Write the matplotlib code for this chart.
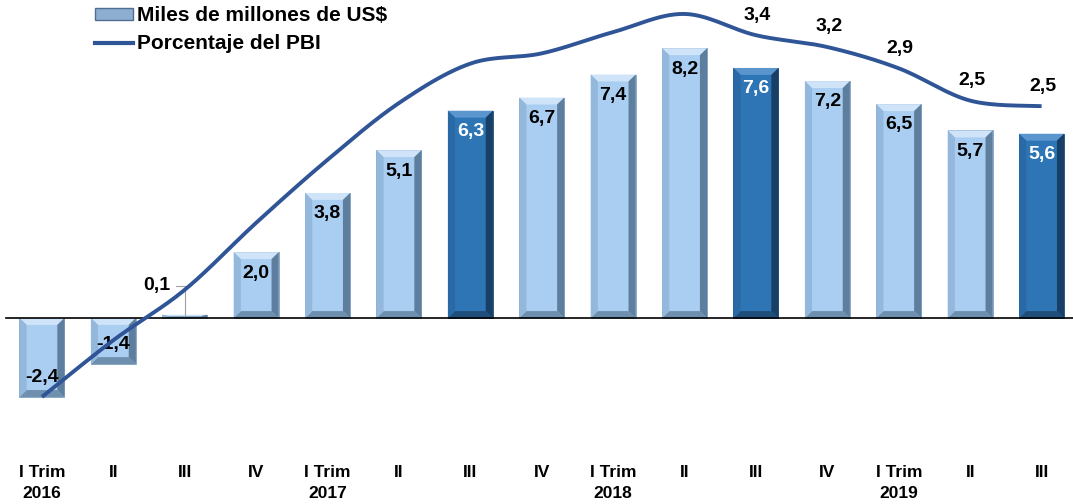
import matplotlib.pyplot as plt
import numpy as np
from matplotlib.patches import Polygon, Patch
from matplotlib.lines import Line2D

plt.rcParams['font.family'] = ['Liberation Sans', 'DejaVu Sans']
plt.rcParams['font.weight'] = 'bold'

# data
quarters = ["I Trim", "II", "III", "IV", "I Trim", "II", "III", "IV",
            "I Trim", "II", "III", "IV", "I Trim", "II", "III"]
years = ["2016", "", "", "", "2017", "", "", "", "2018", "", "", "", "2019", "", ""]
usd_bn = [-2.4, -1.4, 0.1, 2.0, 3.8, 5.1, 6.3, 6.7, 7.4, 8.2, 7.6, 7.2, 6.5, 5.7, 5.6]
pct_gdp = [-1.23, -0.51, 0.13, 0.98, 1.78, 2.50, 3.00, 3.13, 3.40, 3.63,
           3.36, 3.21, 2.94, 2.53, 2.46]
pct_labelled = [10, 11, 12, 13, 14]
dark_bars = [6, 10, 14]

line_color = '#2F5597'
light = dict(face='#A9CEF1', top='#CFE4F8', left='#93B8DC', right='#5E7E9E', bottom='#6F8FAE', edge='#7F9FBF')
dark = dict(face='#2E75B6', top='#5A95CE', left='#296AA6', right='#183F66', bottom='#1F4E7A', edge='#1F4E79')


def catmull_rom(x, y, n=30):
    # smoothed line like the spreadsheet "smooth line" option
    p = np.column_stack([x, y]).astype(float)
    p = np.vstack([p[0], p, p[-1]])
    out = []
    for i in range(1, len(p) - 2):
        p0, p1, p2, p3 = p[i - 1], p[i], p[i + 1], p[i + 2]
        c1 = p1 + (p2 - p0) / 6
        c2 = p2 - (p3 - p1) / 6
        t = np.linspace(0, 1, n)[:, None]
        seg = ((1 - t) ** 3) * p1 + 3 * ((1 - t) ** 2) * t * c1 + 3 * (1 - t) * t ** 2 * c2 + t ** 3 * p2
        out.append(seg if i == 1 else seg[1:])
    out = np.vstack(out)
    return out[:, 0], out[:, 1]


fig = plt.figure(figsize=(10.73, 5.04), dpi=100)
ax = fig.add_axes([0, 0.1, 1, 0.9])
ax2 = ax.twinx()

x = np.arange(len(usd_bn))
styles = [dark if i in dark_bars else light for i in range(len(usd_bn))]
bars = ax.bar(x, usd_bn, width=0.63, color=[s['face'] for s in styles],
              edgecolor=[s['edge'] for s in styles], linewidth=0.6, zorder=2)

# bevel on each bar
bx, by = 0.1, 0.21
for rect, s in zip(bars.patches, styles):
    x0 = rect.get_x()
    x1 = x0 + rect.get_width()
    y0 = min(rect.get_y(), rect.get_y() + rect.get_height())
    y1 = max(rect.get_y(), rect.get_y() + rect.get_height())
    dy = min(by, (y1 - y0) / 2)
    dx = bx
    polys = [
        ([(x0, y1), (x1, y1), (x1 - dx, y1 - dy), (x0 + dx, y1 - dy)], s['top']),
        ([(x0, y0), (x1, y0), (x1 - dx, y0 + dy), (x0 + dx, y0 + dy)], s['bottom']),
        ([(x0, y0), (x0, y1), (x0 + dx, y1 - dy), (x0 + dx, y0 + dy)], s['left']),
        ([(x1, y0), (x1, y1), (x1 - dx, y1 - dy), (x1 - dx, y0 + dy)], s['right']),
    ]
    for pts, c in polys:
        ax.add_patch(Polygon(pts, closed=True, facecolor=c, edgecolor='none', zorder=3))

ax.plot([-0.51, 15], [0, 0], color='black', lw=1.2, zorder=4)

# bar value labels
for i, v in enumerate(usd_bn):
    txt = f"{v:.1f}".replace('.', ',')
    col = 'white' if i in dark_bars else 'black'
    if abs(v) < 0.5:
        ax.annotate(txt, xy=(i, v), xytext=(-20, 21), textcoords='offset points',
                    ha='center', va='center', fontsize=14, color='black', zorder=6,
                    arrowprops=dict(arrowstyle='-', color='#A0A0A0', lw=0.8, shrinkA=2, shrinkB=0,
                                    connectionstyle='angle,angleA=0,angleB=90,rad=0'))
    elif v > 0:
        ax.annotate(txt, xy=(i, v), xytext=(0, -15), textcoords='offset points',
                    ha='center', va='center', fontsize=14, color=col, zorder=6)
    else:
        ax.annotate(txt, xy=(i, v), xytext=(0, 14), textcoords='offset points',
                    ha='center', va='center', fontsize=14, color=col, zorder=6)

# smoothed GDP line
lx, ly = catmull_rom(x, pct_gdp)
ax2.plot(lx, ly, color=line_color, lw=2.8, solid_capstyle='butt', zorder=5)
for i in pct_labelled:
    ax2.annotate(f"{pct_gdp[i]:.1f}".replace('.', ','), xy=(i, pct_gdp[i]), xytext=(1, 14.5),
                 textcoords='offset points', ha='center', va='center', fontsize=14)

ax.set_xlim(-0.588, 14.44)
ax.set_ylim(-4.122, 9.666)
ax2.set_ylim(-1.949, 3.807)
ax.set_zorder(1)
ax2.set_zorder(2)
ax.patch.set_visible(False)
ax2.patch.set_visible(False)

ax.set_xticks(x)
ax.set_xticklabels([q + "\n" + y if y else q for q, y in zip(quarters, years)],
                   fontsize=12.5, fontweight='bold', linespacing=1.5, va='top')
ax.tick_params(axis='x', length=0, pad=8)
ax.set_yticks([])
ax2.set_yticks([])
for a in (ax, ax2):
    for sp in a.spines.values():
        sp.set_visible(False)

handles = [Patch(facecolor='#8DAED0', edgecolor='#4F6F8F', linewidth=1.0),
           Line2D([], [], color=line_color, lw=3)]
fig.legend(handles, ["Miles de millones de US$", "Porcentaje del PBI"],
           loc='upper left', bbox_to_anchor=(95 / 1073, 1 - 6 / 504), frameon=False,
           prop=dict(size=15, weight='bold'), handlelength=1.83, handleheight=0.5,
           handletextpad=0.2, borderpad=0, borderaxespad=0, labelspacing=0.45)

fig.savefig('out.png', dpi=100)
